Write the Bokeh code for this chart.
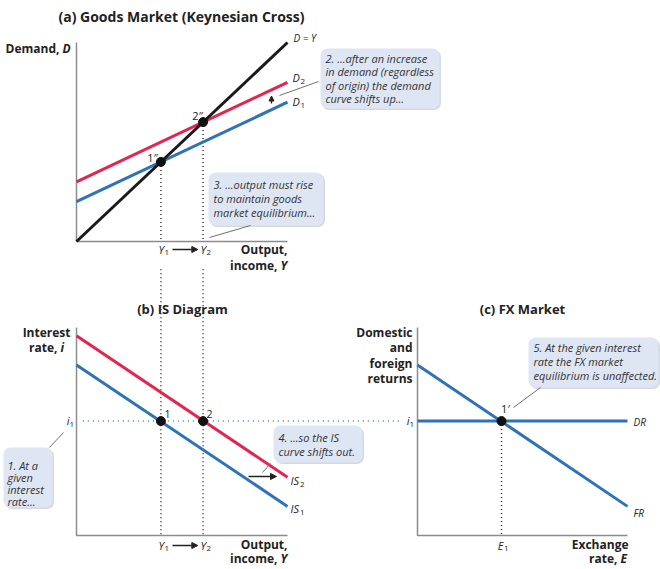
from bokeh.plotting import figure
from bokeh.models import Range1d, Arrow, NormalHead, BoxAnnotation
from bokeh.core.properties import value
from bokeh.embed import file_html
from bokeh.resources import INLINE

# ---------------- data ----------------
# (a) Goods market: output Y (x, 0..10) vs demand D (y, 0..10)
goods_Y = [0, 10]
goods_DY = [0, 10]        # 45-degree line D = Y
goods_D1 = [2, 7]         # demand curve D1
goods_D2 = [3, 8]         # demand curve D2 (after the increase)
Y_1 = 4
Y_2 = 6
# (b) IS diagram: output Y (x) vs interest rate i (y)
is_Y = [0, 10]
is_IS1 = [8.2, 1.4]
is_IS2 = [9.6, 2.8]
i_1 = 5.5
# (c) FX market: exchange rate E (x) vs returns (y)
fx_E = [0, 10]
fx_FR = [8.2, 1.4]
fx_DR = [5.5, 5.5]
E_1 = 4
# axes of each panel (polyline: top of vertical axis -> origin -> end of horizontal axis)
axis_u = [0, 0, 10]
axis_v = [10, 0, 0]

RED = "#e3264f"
BLUE = "#2e72b8"
BLACK = "#1a1a1a"
AXIS = "#8c8c8c"
TXT = "#222222"
NOTE = "#333333"
FONT = "Open Sans"

W, H = 660, 569


def prange(u0, p0, u1, p1, lo, hi):
    s = (u1 - u0) / (p1 - p0)
    return Range1d(start=u0 + (lo - p0) * s, end=u0 + (hi - p0) * s)


p = figure(width=W, height=H, x_range=Range1d(0, W), y_range=Range1d(H, 0),
           output_backend="svg", toolbar_location=None, min_border=0,
           x_axis_location=None, y_axis_location=None,
           background_fill_color="white", border_fill_color="white")
p.grid.visible = False
p.outline_line_color = None

p.extra_x_ranges = {"ax": prange(0, 76, 10, 287, 0, W),
                    "cx": prange(0, 417, 10, 627, 0, W)}
p.extra_y_ranges = {"ay": prange(0, 241, 10, 42, H, 0),
                    "by": prange(0, 535, 10, 327, H, 0)}


def T(x, y, s, size=10, style="normal", align="left", color=TXT, xn="default", yn="default"):
    p.text(x=[x], y=[y], text=[s], text_font=value(FONT), text_font_size=f"{size}px",
           text_font_style=style, text_align=align, text_baseline="middle",
           text_color=color, x_range_name=xn, y_range_name=yn)


def callout(l, r, t, b, lines, tx, ty, dy):
    p.add_layout(BoxAnnotation(left=l + 1.5, right=r + 1.5, top=t + 1.5, bottom=b + 1.5,
                               fill_color="#b4bac6", fill_alpha=0.55, line_color=None,
                               border_radius=7, level="underlay"))
    p.add_layout(BoxAnnotation(left=l, right=r, top=t, bottom=b,
                               fill_color="#dfe6f3", fill_alpha=1.0, line_color=None,
                               border_radius=7, level="underlay"))
    for k, s in enumerate(lines):
        T(tx, ty + k * dy, s, 11, "italic", color=NOTE)


def leader(x0, y0, x1, y1):
    p.line([x0, x1], [y0, y1], line_color="#707070", line_width=1)


def arrow(x0, y0, x1, y1, xn="default", yn="default", size=6):
    p.add_layout(Arrow(x_start=x0, y_start=y0, x_end=x1, y_end=y1,
                       x_range_name=xn, y_range_name=yn,
                       line_color=TXT, line_width=1.3,
                       end=NormalHead(size=size, fill_color=TXT, line_color=TXT)))


DOT = dict(line_color="#333333", line_width=1.5, line_dash="1 3")

# ---------------- dotted guide lines ----------------
drop_top = 12.8
for Yv in (Y_1, Y_2):
    p.line([Yv, Yv], [Yv, 0], x_range_name="ax", y_range_name="ay", **DOT)
    p.line([Yv, Yv], [drop_top, 0], x_range_name="ax", y_range_name="by", **DOT)
p.line([E_1, E_1], [i_1, 0], x_range_name="cx", y_range_name="by", **DOT)
p.line([0.3, 15.3], [i_1, i_1], x_range_name="ax", y_range_name="by",
       line_color=BLUE, line_width=1.5, line_dash="1 4", line_alpha=0.9)

# ---------------- axes ----------------
for xn, yn in (("ax", "ay"), ("ax", "by"), ("cx", "by")):
    p.line(axis_u, axis_v, x_range_name=xn, y_range_name=yn, line_color=AXIS, line_width=1.5)

# ---------------- curves ----------------
p.line(goods_Y, goods_D2, x_range_name="ax", y_range_name="ay", line_color=RED, line_width=3)
p.line(goods_Y, goods_D1, x_range_name="ax", y_range_name="ay", line_color=BLUE, line_width=3)
p.line(goods_Y, goods_DY, x_range_name="ax", y_range_name="ay", line_color=BLACK, line_width=3)
p.line(is_Y, is_IS2, x_range_name="ax", y_range_name="by", line_color=RED, line_width=3)
p.line(is_Y, is_IS1, x_range_name="ax", y_range_name="by", line_color=BLUE, line_width=3)
p.line(fx_E, fx_DR, x_range_name="cx", y_range_name="by", line_color=BLUE, line_width=3)
p.line(fx_E, fx_FR, x_range_name="cx", y_range_name="by", line_color=BLUE, line_width=3)

# ---------------- equilibrium points ----------------
p.scatter([Y_1, Y_2], [Y_1, Y_2], x_range_name="ax", y_range_name="ay", size=9, color="#111111")
p.scatter([Y_1, Y_2], [i_1, i_1], x_range_name="ax", y_range_name="by", size=9, color="#111111")
p.scatter([E_1], [i_1], x_range_name="cx", y_range_name="by", size=9, color="#111111")

# ---------------- panel (a) texts ----------------
T(181, 16, "(a) Goods Market (Keynesian Cross)", 14, "bold", "center")
T(59, 48, "Demand,", 12, "bold", "right")
T(62, 48, "D", 12, "bold italic")
T(293, 37, "D = Y", 10, "italic")
T(292, 77, "D", 11, "italic"); T(300, 81, "2", 8)
T(292, 101, "D", 11, "italic"); T(300, 105, "1", 8)
T(152, 157, "1\u2033", 11, "normal", "center")
T(197, 115, "2\u2033", 11, "normal", "center")
T(163.5, 249, "Y", 11, "italic", "right"); T(164, 252, "1", 8)
T(205.5, 249, "Y", 11, "italic", "right"); T(206, 252, "2", 8)
arrow(Y_1 + 0.55, 249, Y_2 - 0.25, 249, xn="ax", size=6)
T(287, 249, "Output,", 12, "bold", "right")
T(277, 265, "income,", 12, "bold", "right")
T(280, 265, "Y", 12, "bold italic")
arrow(271, 103, 271, 95.5, size=5)

callout(320, 439, 48, 108, ["2. ...after an increase", "in demand (regardless",
                            "of origin) the demand", "curve shifts up..."], 325, 58, 13.4)
leader(318, 81, 279, 95)
callout(208, 323, 172, 225, ["3. ...output must rise", "to maintain goods",
                             "market equilibrium..."], 213, 183.5, 14.3)
leader(250, 225, 209, 237)

# ---------------- panel (b) texts ----------------
T(182, 308, "(b) IS Diagram", 13, "bold", "center")
T(70, 332, "Interest", 12, "bold", "right")
T(57, 347, "rate,", 12, "bold", "right")
T(60, 347, "i", 12, "bold italic")
T(69, 420, "i", 11, "italic", "right"); T(69, 424, "1", 8)
T(167, 413, "1", 10.5, "normal", "center")
T(209, 413, "2", 10.5, "normal", "center")
T(290, 480, "IS", 11, "italic"); T(299.5, 484, "2", 8)
T(290, 508, "IS", 11, "italic"); T(299.5, 512, "1", 8)
T(163.5, 545, "Y", 11, "italic", "right"); T(164, 548, "1", 8)
T(205.5, 545, "Y", 11, "italic", "right"); T(206, 548, "2", 8)
arrow(Y_1 + 0.55, 545, Y_2 - 0.25, 545, xn="ax", size=6)
T(287, 544, "Output,", 12, "bold", "right")
T(277, 558, "income,", 12, "bold", "right")
T(280, 558, "Y", 12, "bold italic")
arrow(248, 476, 276, 476, size=6)

callout(3, 52, 447, 507, ["1. At a", "given", "interest", "rate..."], 7, 464.5, 12)
leader(49, 447, 63, 432)
callout(273, 362, 425, 462, ["4. ...so the IS", "curve shifts out."], 278, 437, 14)
leader(270, 463, 262, 472)

# ---------------- panel (c) texts ----------------
T(522, 308, "(c) FX Market", 13, "bold", "center")
for k, s in enumerate(["Domestic", "and", "foreign", "returns"]):
    T(412, 332 + k * 15.3, s, 12, "bold", "right")
T(409, 420, "i", 11, "italic", "right"); T(409, 424, "1", 8)
T(505, 408, "1\u2032", 11, "normal", "center")
T(633, 421, "DR", 10, "italic")
T(633, 512, "FR", 10, "italic")
T(503, 545, "E", 11, "italic", "right"); T(503.5, 548, "1", 8)
T(628, 544, "Exchange", 12, "bold", "right")
T(617, 558, "rate,", 12, "bold", "right")
T(620, 558, "E", 12, "bold italic")

callout(528, 658, 337, 387, ["5. At the given interest", "rate the FX market",
                             "equilibrium is unaffected."], 533, 347, 14)
leader(540, 387, 513, 407)

open("out.html", "w").write(file_html(p, INLINE))
